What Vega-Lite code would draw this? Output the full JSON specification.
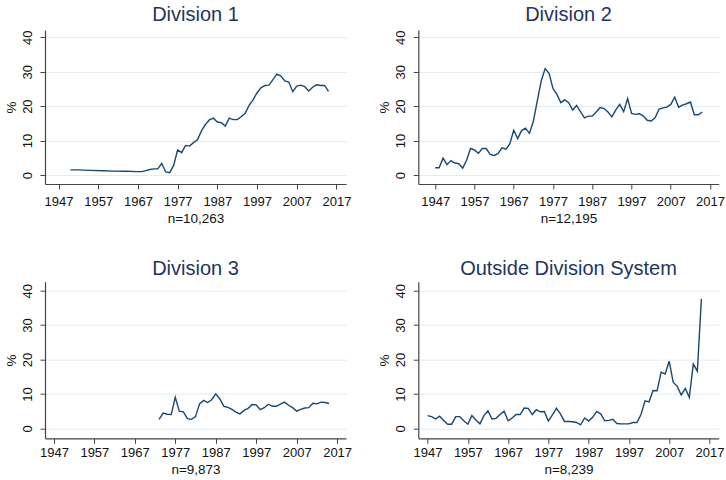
{
  "$schema": "https://vega.github.io/schema/vega-lite/v6.json",
  "padding": {"left": 4, "top": 5, "right": 3, "bottom": 3},
  "background": "white",
  "bounds": "flush",
  "columns": 2,
  "spacing": {"row": 97.7, "column": 72.3},
  "config": {
    "font": "Liberation Sans",
    "view": {"stroke": null},
    "title": {"fontSize": 20, "fontWeight": "normal", "color": "#1e3560", "font": "Liberation Sans", "anchor": "middle"},
    "axis": {
      "labelFont": "Liberation Sans", "labelFontSize": 13, "labelColor": "#111111",
      "titleFont": "Liberation Sans", "titleFontSize": 13.5, "titleFontWeight": "normal", "titleColor": "#111111",
      "domainColor": "#444444", "domainWidth": 1.2, "tickColor": "#444444", "tickSize": 5, "tickWidth": 1,
      "gridColor": "#e3ecf0", "gridWidth": 1
    },
    "axisX": {"grid": false, "labelPadding": 6, "titlePadding": 3, "labelFlush": false, "labelOverlap": false},
    "axisY": {"labelAngle": -90, "labelAlign": "center", "labelBaseline": "bottom", "labelPadding": 6, "titlePadding": 3, "labelOverlap": false}
  },
  "datasets": {
    "shares": [
      {"panel": "Division 1", "year": 1950, "pct": 1.5},
      {"panel": "Division 1", "year": 1952, "pct": 1.5},
      {"panel": "Division 1", "year": 1955, "pct": 1.35},
      {"panel": "Division 1", "year": 1958, "pct": 1.25},
      {"panel": "Division 1", "year": 1961, "pct": 1.15},
      {"panel": "Division 1", "year": 1964, "pct": 1.1},
      {"panel": "Division 1", "year": 1967, "pct": 1.0},
      {"panel": "Division 1", "year": 1968, "pct": 1.0},
      {"panel": "Division 1", "year": 1969, "pct": 1.3},
      {"panel": "Division 1", "year": 1970, "pct": 1.6},
      {"panel": "Division 1", "year": 1971, "pct": 1.8},
      {"panel": "Division 1", "year": 1972, "pct": 1.8},
      {"panel": "Division 1", "year": 1973, "pct": 3.4},
      {"panel": "Division 1", "year": 1974, "pct": 0.9},
      {"panel": "Division 1", "year": 1975, "pct": 0.7},
      {"panel": "Division 1", "year": 1976, "pct": 2.8},
      {"panel": "Division 1", "year": 1977, "pct": 7.3},
      {"panel": "Division 1", "year": 1978, "pct": 6.5},
      {"panel": "Division 1", "year": 1979, "pct": 8.6},
      {"panel": "Division 1", "year": 1980, "pct": 8.4},
      {"panel": "Division 1", "year": 1981, "pct": 9.4},
      {"panel": "Division 1", "year": 1982, "pct": 10.2},
      {"panel": "Division 1", "year": 1983, "pct": 12.8},
      {"panel": "Division 1", "year": 1984, "pct": 14.7},
      {"panel": "Division 1", "year": 1985, "pct": 16.0},
      {"panel": "Division 1", "year": 1986, "pct": 16.5},
      {"panel": "Division 1", "year": 1987, "pct": 15.4},
      {"panel": "Division 1", "year": 1988, "pct": 15.2},
      {"panel": "Division 1", "year": 1989, "pct": 14.2},
      {"panel": "Division 1", "year": 1990, "pct": 16.5},
      {"panel": "Division 1", "year": 1991, "pct": 16.1},
      {"panel": "Division 1", "year": 1992, "pct": 16.1},
      {"panel": "Division 1", "year": 1993, "pct": 16.9},
      {"panel": "Division 1", "year": 1994, "pct": 17.9},
      {"panel": "Division 1", "year": 1995, "pct": 20.2},
      {"panel": "Division 1", "year": 1996, "pct": 21.8},
      {"panel": "Division 1", "year": 1997, "pct": 23.9},
      {"panel": "Division 1", "year": 1998, "pct": 25.3},
      {"panel": "Division 1", "year": 1999, "pct": 26.0},
      {"panel": "Division 1", "year": 2000, "pct": 26.1},
      {"panel": "Division 1", "year": 2001, "pct": 27.7},
      {"panel": "Division 1", "year": 2002, "pct": 29.3},
      {"panel": "Division 1", "year": 2003, "pct": 28.7},
      {"panel": "Division 1", "year": 2004, "pct": 27.3},
      {"panel": "Division 1", "year": 2005, "pct": 27.0},
      {"panel": "Division 1", "year": 2006, "pct": 24.2},
      {"panel": "Division 1", "year": 2007, "pct": 25.8},
      {"panel": "Division 1", "year": 2008, "pct": 26.1},
      {"panel": "Division 1", "year": 2009, "pct": 25.7},
      {"panel": "Division 1", "year": 2010, "pct": 24.4},
      {"panel": "Division 1", "year": 2011, "pct": 25.5},
      {"panel": "Division 1", "year": 2012, "pct": 26.2},
      {"panel": "Division 1", "year": 2013, "pct": 26.0},
      {"panel": "Division 1", "year": 2014, "pct": 26.0},
      {"panel": "Division 1", "year": 2015, "pct": 24.3},

      {"panel": "Division 2", "year": 1947, "pct": 2.1},
      {"panel": "Division 2", "year": 1948, "pct": 2.1},
      {"panel": "Division 2", "year": 1949, "pct": 4.9},
      {"panel": "Division 2", "year": 1950, "pct": 3.0},
      {"panel": "Division 2", "year": 1951, "pct": 4.2},
      {"panel": "Division 2", "year": 1952, "pct": 3.5},
      {"panel": "Division 2", "year": 1953, "pct": 3.3},
      {"panel": "Division 2", "year": 1954, "pct": 2.0},
      {"panel": "Division 2", "year": 1955, "pct": 4.3},
      {"panel": "Division 2", "year": 1956, "pct": 7.7},
      {"panel": "Division 2", "year": 1957, "pct": 7.3},
      {"panel": "Division 2", "year": 1958, "pct": 6.3},
      {"panel": "Division 2", "year": 1959, "pct": 7.7},
      {"panel": "Division 2", "year": 1960, "pct": 7.7},
      {"panel": "Division 2", "year": 1961, "pct": 6.0},
      {"panel": "Division 2", "year": 1962, "pct": 5.7},
      {"panel": "Division 2", "year": 1963, "pct": 6.2},
      {"panel": "Division 2", "year": 1964, "pct": 7.9},
      {"panel": "Division 2", "year": 1965, "pct": 7.5},
      {"panel": "Division 2", "year": 1966, "pct": 9.0},
      {"panel": "Division 2", "year": 1967, "pct": 13.0},
      {"panel": "Division 2", "year": 1968, "pct": 10.6},
      {"panel": "Division 2", "year": 1969, "pct": 12.9},
      {"panel": "Division 2", "year": 1970, "pct": 13.6},
      {"panel": "Division 2", "year": 1971, "pct": 12.1},
      {"panel": "Division 2", "year": 1972, "pct": 15.6},
      {"panel": "Division 2", "year": 1973, "pct": 21.5},
      {"panel": "Division 2", "year": 1974, "pct": 27.3},
      {"panel": "Division 2", "year": 1975, "pct": 30.9},
      {"panel": "Division 2", "year": 1976, "pct": 29.5},
      {"panel": "Division 2", "year": 1977, "pct": 25.1},
      {"panel": "Division 2", "year": 1978, "pct": 23.4},
      {"panel": "Division 2", "year": 1979, "pct": 21.0},
      {"panel": "Division 2", "year": 1980, "pct": 21.8},
      {"panel": "Division 2", "year": 1981, "pct": 21.0},
      {"panel": "Division 2", "year": 1982, "pct": 18.9},
      {"panel": "Division 2", "year": 1983, "pct": 20.2},
      {"panel": "Division 2", "year": 1984, "pct": 18.4},
      {"panel": "Division 2", "year": 1985, "pct": 16.6},
      {"panel": "Division 2", "year": 1986, "pct": 17.1},
      {"panel": "Division 2", "year": 1987, "pct": 17.1},
      {"panel": "Division 2", "year": 1988, "pct": 18.3},
      {"panel": "Division 2", "year": 1989, "pct": 19.6},
      {"panel": "Division 2", "year": 1990, "pct": 19.3},
      {"panel": "Division 2", "year": 1991, "pct": 18.3},
      {"panel": "Division 2", "year": 1992, "pct": 16.9},
      {"panel": "Division 2", "year": 1993, "pct": 18.9},
      {"panel": "Division 2", "year": 1994, "pct": 20.5},
      {"panel": "Division 2", "year": 1995, "pct": 18.4},
      {"panel": "Division 2", "year": 1996, "pct": 22.2},
      {"panel": "Division 2", "year": 1997, "pct": 17.9},
      {"panel": "Division 2", "year": 1998, "pct": 17.6},
      {"panel": "Division 2", "year": 1999, "pct": 17.8},
      {"panel": "Division 2", "year": 2000, "pct": 17.1},
      {"panel": "Division 2", "year": 2001, "pct": 15.9},
      {"panel": "Division 2", "year": 2002, "pct": 15.7},
      {"panel": "Division 2", "year": 2003, "pct": 16.6},
      {"panel": "Division 2", "year": 2004, "pct": 19.1},
      {"panel": "Division 2", "year": 2005, "pct": 19.5},
      {"panel": "Division 2", "year": 2006, "pct": 19.7},
      {"panel": "Division 2", "year": 2007, "pct": 20.5},
      {"panel": "Division 2", "year": 2008, "pct": 22.6},
      {"panel": "Division 2", "year": 2009, "pct": 19.7},
      {"panel": "Division 2", "year": 2010, "pct": 20.3},
      {"panel": "Division 2", "year": 2011, "pct": 20.7},
      {"panel": "Division 2", "year": 2012, "pct": 21.2},
      {"panel": "Division 2", "year": 2013, "pct": 17.5},
      {"panel": "Division 2", "year": 2014, "pct": 17.5},
      {"panel": "Division 2", "year": 2015, "pct": 18.3},

      {"panel": "Division 3", "year": 1973, "pct": 2.6},
      {"panel": "Division 3", "year": 1974, "pct": 4.4},
      {"panel": "Division 3", "year": 1975, "pct": 4.1},
      {"panel": "Division 3", "year": 1976, "pct": 4.0},
      {"panel": "Division 3", "year": 1977, "pct": 9.0},
      {"panel": "Division 3", "year": 1978, "pct": 5.0},
      {"panel": "Division 3", "year": 1979, "pct": 4.8},
      {"panel": "Division 3", "year": 1980, "pct": 2.8},
      {"panel": "Division 3", "year": 1981, "pct": 2.6},
      {"panel": "Division 3", "year": 1982, "pct": 3.4},
      {"panel": "Division 3", "year": 1983, "pct": 7.1},
      {"panel": "Division 3", "year": 1984, "pct": 8.1},
      {"panel": "Division 3", "year": 1985, "pct": 7.5},
      {"panel": "Division 3", "year": 1986, "pct": 8.3},
      {"panel": "Division 3", "year": 1987, "pct": 10.0},
      {"panel": "Division 3", "year": 1988, "pct": 8.6},
      {"panel": "Division 3", "year": 1989, "pct": 6.4},
      {"panel": "Division 3", "year": 1990, "pct": 6.1},
      {"panel": "Division 3", "year": 1991, "pct": 5.5},
      {"panel": "Division 3", "year": 1992, "pct": 4.7},
      {"panel": "Division 3", "year": 1993, "pct": 4.2},
      {"panel": "Division 3", "year": 1994, "pct": 5.2},
      {"panel": "Division 3", "year": 1995, "pct": 5.8},
      {"panel": "Division 3", "year": 1996, "pct": 6.9},
      {"panel": "Division 3", "year": 1997, "pct": 6.8},
      {"panel": "Division 3", "year": 1998, "pct": 5.4},
      {"panel": "Division 3", "year": 1999, "pct": 6.0},
      {"panel": "Division 3", "year": 2000, "pct": 7.0},
      {"panel": "Division 3", "year": 2001, "pct": 6.4},
      {"panel": "Division 3", "year": 2002, "pct": 6.4},
      {"panel": "Division 3", "year": 2003, "pct": 7.0},
      {"panel": "Division 3", "year": 2004, "pct": 7.6},
      {"panel": "Division 3", "year": 2005, "pct": 6.7},
      {"panel": "Division 3", "year": 2006, "pct": 6.0},
      {"panel": "Division 3", "year": 2007, "pct": 5.0},
      {"panel": "Division 3", "year": 2008, "pct": 5.5},
      {"panel": "Division 3", "year": 2009, "pct": 5.9},
      {"panel": "Division 3", "year": 2010, "pct": 6.0},
      {"panel": "Division 3", "year": 2011, "pct": 7.3},
      {"panel": "Division 3", "year": 2012, "pct": 7.1},
      {"panel": "Division 3", "year": 2013, "pct": 7.6},
      {"panel": "Division 3", "year": 2014, "pct": 7.5},
      {"panel": "Division 3", "year": 2015, "pct": 7.2},

      {"panel": "Outside", "year": 1947, "pct": 3.7},
      {"panel": "Outside", "year": 1948, "pct": 3.4},
      {"panel": "Outside", "year": 1949, "pct": 2.7},
      {"panel": "Outside", "year": 1950, "pct": 3.5},
      {"panel": "Outside", "year": 1951, "pct": 2.3},
      {"panel": "Outside", "year": 1952, "pct": 1.2},
      {"panel": "Outside", "year": 1953, "pct": 1.2},
      {"panel": "Outside", "year": 1954, "pct": 3.4},
      {"panel": "Outside", "year": 1955, "pct": 3.4},
      {"panel": "Outside", "year": 1956, "pct": 2.2},
      {"panel": "Outside", "year": 1957, "pct": 1.2},
      {"panel": "Outside", "year": 1958, "pct": 3.7},
      {"panel": "Outside", "year": 1959, "pct": 2.4},
      {"panel": "Outside", "year": 1960, "pct": 1.3},
      {"panel": "Outside", "year": 1961, "pct": 3.7},
      {"panel": "Outside", "year": 1962, "pct": 5.1},
      {"panel": "Outside", "year": 1963, "pct": 2.7},
      {"panel": "Outside", "year": 1964, "pct": 2.9},
      {"panel": "Outside", "year": 1965, "pct": 4.0},
      {"panel": "Outside", "year": 1966, "pct": 5.0},
      {"panel": "Outside", "year": 1967, "pct": 2.2},
      {"panel": "Outside", "year": 1968, "pct": 3.0},
      {"panel": "Outside", "year": 1969, "pct": 4.0},
      {"panel": "Outside", "year": 1970, "pct": 4.0},
      {"panel": "Outside", "year": 1971, "pct": 5.9},
      {"panel": "Outside", "year": 1972, "pct": 5.8},
      {"panel": "Outside", "year": 1973, "pct": 4.0},
      {"panel": "Outside", "year": 1974, "pct": 5.4},
      {"panel": "Outside", "year": 1975, "pct": 4.8},
      {"panel": "Outside", "year": 1976, "pct": 4.9},
      {"panel": "Outside", "year": 1977, "pct": 2.1},
      {"panel": "Outside", "year": 1978, "pct": 3.9},
      {"panel": "Outside", "year": 1979, "pct": 5.8},
      {"panel": "Outside", "year": 1980, "pct": 4.2},
      {"panel": "Outside", "year": 1981, "pct": 2.0},
      {"panel": "Outside", "year": 1982, "pct": 2.0},
      {"panel": "Outside", "year": 1983, "pct": 1.9},
      {"panel": "Outside", "year": 1984, "pct": 1.7},
      {"panel": "Outside", "year": 1985, "pct": 1.0},
      {"panel": "Outside", "year": 1986, "pct": 3.0},
      {"panel": "Outside", "year": 1987, "pct": 2.1},
      {"panel": "Outside", "year": 1988, "pct": 3.2},
      {"panel": "Outside", "year": 1989, "pct": 4.9},
      {"panel": "Outside", "year": 1990, "pct": 4.2},
      {"panel": "Outside", "year": 1991, "pct": 2.2},
      {"panel": "Outside", "year": 1992, "pct": 2.3},
      {"panel": "Outside", "year": 1993, "pct": 2.6},
      {"panel": "Outside", "year": 1994, "pct": 1.4},
      {"panel": "Outside", "year": 1995, "pct": 1.3},
      {"panel": "Outside", "year": 1996, "pct": 1.3},
      {"panel": "Outside", "year": 1997, "pct": 1.3},
      {"panel": "Outside", "year": 1998, "pct": 1.7},
      {"panel": "Outside", "year": 1999, "pct": 1.7},
      {"panel": "Outside", "year": 2000, "pct": 4.0},
      {"panel": "Outside", "year": 2001, "pct": 8.0},
      {"panel": "Outside", "year": 2002, "pct": 7.7},
      {"panel": "Outside", "year": 2003, "pct": 11.0},
      {"panel": "Outside", "year": 2004, "pct": 10.9},
      {"panel": "Outside", "year": 2005, "pct": 16.3},
      {"panel": "Outside", "year": 2006, "pct": 15.8},
      {"panel": "Outside", "year": 2007, "pct": 19.5},
      {"panel": "Outside", "year": 2008, "pct": 13.4},
      {"panel": "Outside", "year": 2009, "pct": 12.2},
      {"panel": "Outside", "year": 2010, "pct": 9.7},
      {"panel": "Outside", "year": 2011, "pct": 11.6},
      {"panel": "Outside", "year": 2012, "pct": 9.0},
      {"panel": "Outside", "year": 2013, "pct": 18.7},
      {"panel": "Outside", "year": 2014, "pct": 16.6},
      {"panel": "Outside", "year": 2015, "pct": 37.6}
    ]
  },
  "concat": [
    {
      "width": 301, "height": 154,
      "title": {"text": "Division 1", "offset": 5},
      "data": {"name": "shares"},
      "transform": [{"filter": "datum.panel === 'Division 1'"}],
      "mark": {"type": "line", "color": "#1a476f", "strokeWidth": 1.4},
      "encoding": {
        "x": {"field": "year", "type": "quantitative", "scale": {"domain": [1943.6, 2019.4], "nice": false, "zero": false}, "axis": {"values": [1947, 1957, 1967, 1977, 1987, 1997, 2007, 2017], "format": "d", "title": "n=10,263"}},
        "y": {"field": "pct", "type": "quantitative", "scale": {"domain": [-2.6, 42.1], "nice": false}, "axis": {"values": [0, 10, 20, 30, 40], "title": "%"}}
      }
    },
    {
      "width": 300.4, "height": 154,
      "title": {"text": "Division 2", "offset": 5},
      "data": {"name": "shares"},
      "transform": [{"filter": "datum.panel === 'Division 2'"}],
      "mark": {"type": "line", "color": "#1a476f", "strokeWidth": 1.4},
      "encoding": {
        "x": {"field": "year", "type": "quantitative", "scale": {"domain": [1942.7, 2019.2], "nice": false, "zero": false}, "axis": {"values": [1947, 1957, 1967, 1977, 1987, 1997, 2007, 2017], "format": "d", "title": "n=12,195"}},
        "y": {"field": "pct", "type": "quantitative", "scale": {"domain": [-2.6, 42.1], "nice": false}, "axis": {"values": [0, 10, 20, 30, 40], "title": "%"}}
      }
    },
    {
      "width": 301, "height": 156.6,
      "title": {"text": "Division 3", "offset": 3},
      "data": {"name": "shares"},
      "transform": [{"filter": "datum.panel === 'Division 3'"}],
      "mark": {"type": "line", "color": "#1a476f", "strokeWidth": 1.4},
      "encoding": {
        "x": {"field": "year", "type": "quantitative", "scale": {"domain": [1944.8, 2019.2], "nice": false, "zero": false}, "axis": {"values": [1947, 1957, 1967, 1977, 1987, 1997, 2007, 2017], "format": "d", "title": "n=9,873", "labelPadding": 3}},
        "y": {"field": "pct", "type": "quantitative", "scale": {"domain": [-2.9, 42.6], "nice": false}, "axis": {"values": [0, 10, 20, 30, 40], "title": "%"}}
      }
    },
    {
      "width": 300.4, "height": 156.6,
      "title": {"text": "Outside Division System", "offset": 3},
      "data": {"name": "shares"},
      "transform": [{"filter": "datum.panel === 'Outside'"}],
      "mark": {"type": "line", "color": "#1a476f", "strokeWidth": 1.4},
      "encoding": {
        "x": {"field": "year", "type": "quantitative", "scale": {"domain": [1944.7, 2019.3], "nice": false, "zero": false}, "axis": {"values": [1947, 1957, 1967, 1977, 1987, 1997, 2007, 2017], "format": "d", "title": "n=8,239", "labelPadding": 3}},
        "y": {"field": "pct", "type": "quantitative", "scale": {"domain": [-2.9, 42.6], "nice": false}, "axis": {"values": [0, 10, 20, 30, 40], "title": "%"}}
      }
    }
  ]
}
